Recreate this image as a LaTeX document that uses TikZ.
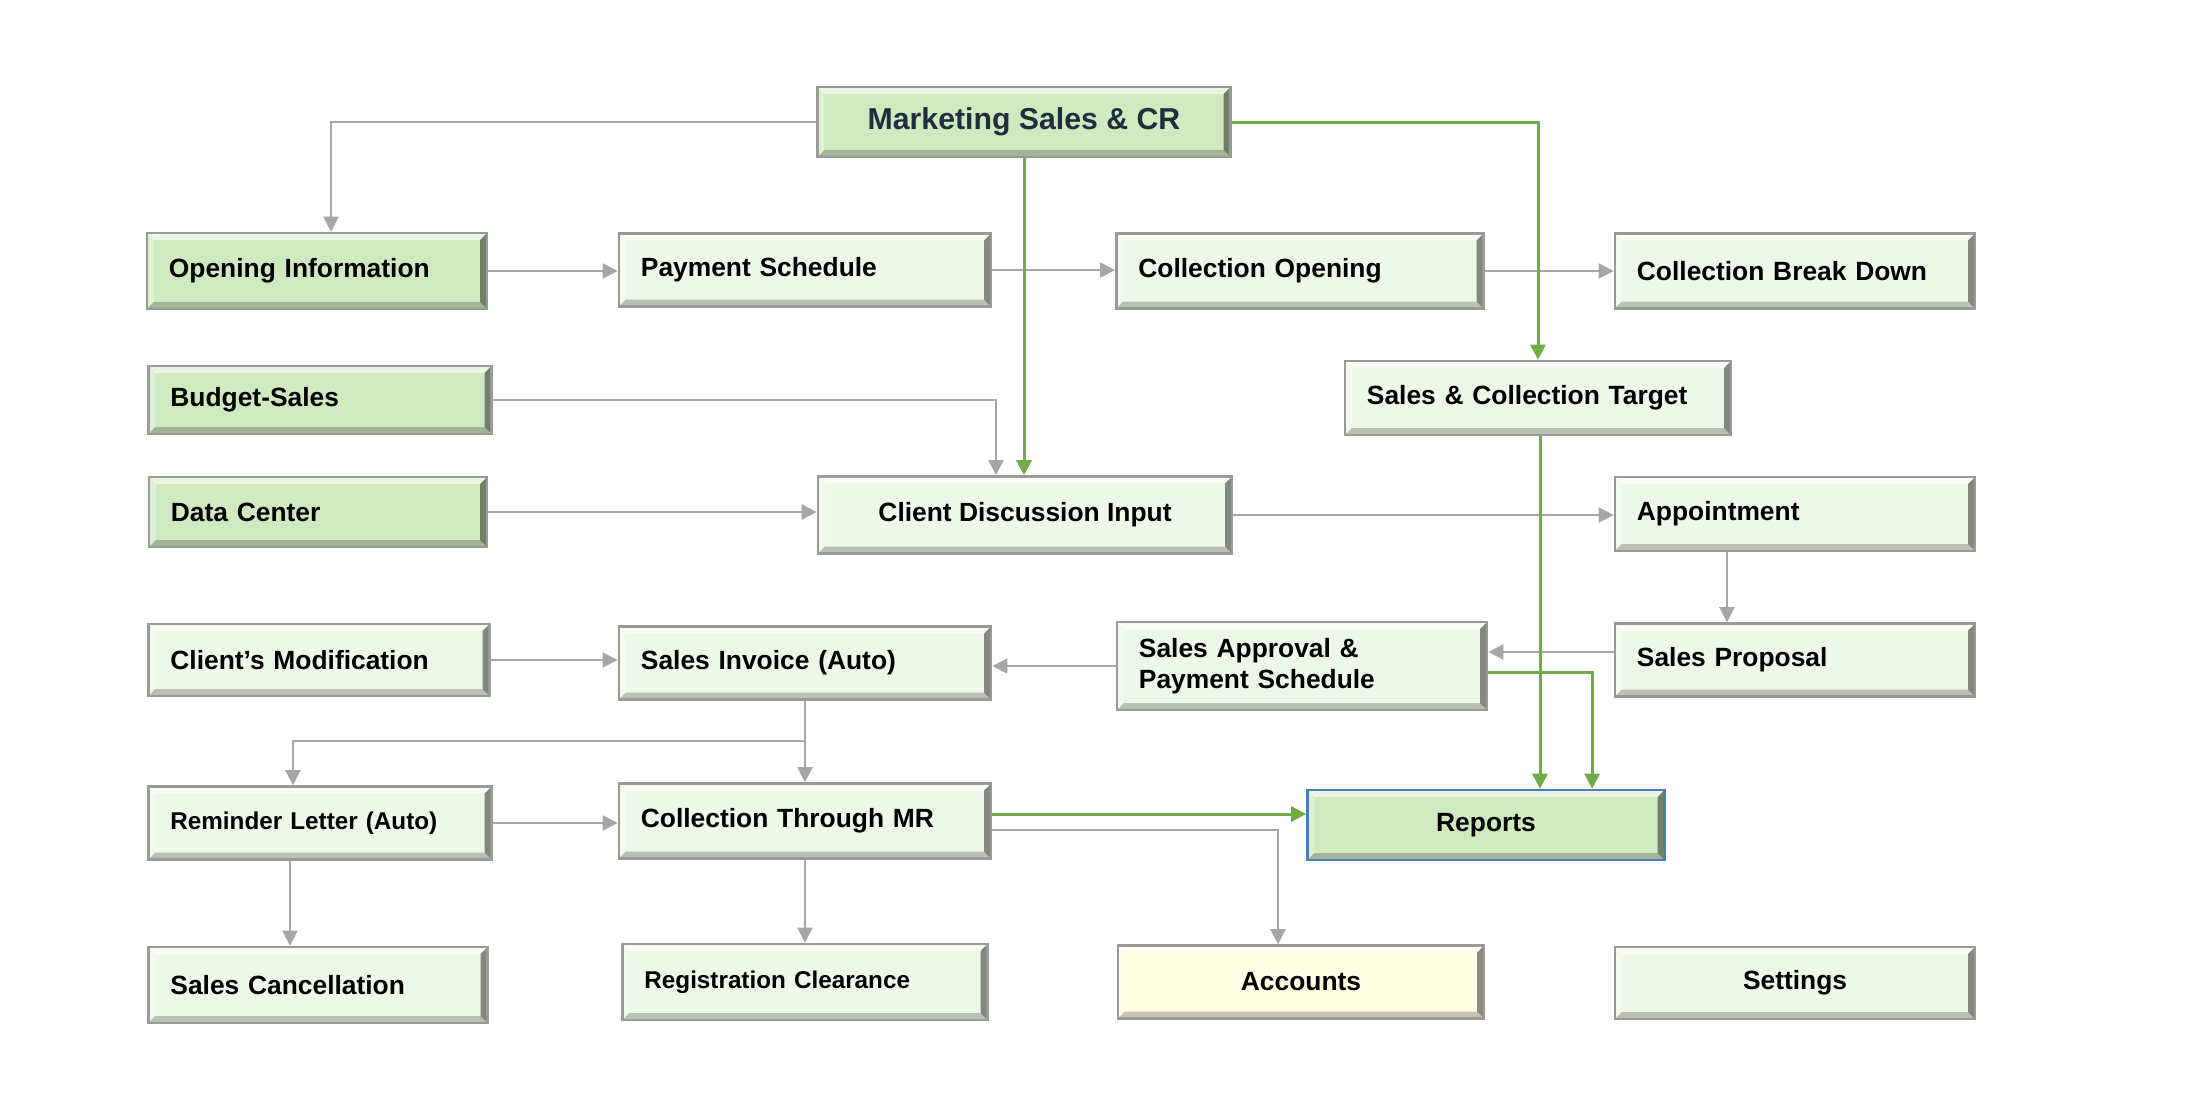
\documentclass[tikz,border=0pt]{standalone}
\usepackage{fontspec}
\setmainfont{Liberation Sans}
\usepackage{xcolor}
\definecolor{tilelight}{HTML}{EEF8E6}
\definecolor{tiledark}{HTML}{D0EAC0}
\definecolor{tileyellow}{HTML}{FFFDE3}
\definecolor{tileedge}{HTML}{9A9A9A}
\definecolor{reportedge}{HTML}{4A7EBB}
\definecolor{linkgray}{HTML}{A6A6A6}
\definecolor{linkgreen}{HTML}{70AD47}
\definecolor{headtext}{HTML}{1F2D3D}
\usetikzlibrary{arrows.meta}
\newcommand\tilefont{\fontsize{7.5}{9}\selectfont\bfseries}
\newcommand\bvw{0.07cm}

\begin{document}
\begin{tikzpicture}[x=0.01cm,y=-0.01cm,
  tile/.style={rectangle,draw=tileedge,line width=0.7pt,fill=tilelight,
    inner xsep=0.22cm,inner ysep=0pt,font=\tilefont,text=black,
    path picture={
      \path (path picture bounding box.south west) coordinate (bl)
            (path picture bounding box.north east) coordinate (tr)
            (path picture bounding box.south east) coordinate (br)
            (path picture bounding box.north west) coordinate (tl);
      \fill[white,opacity=.6] (tl) -- (tr) -- ([shift={(-\bvw,-\bvw)}]tr)
        -- ([shift={(\bvw,-\bvw)}]tl) -- cycle;
      \fill[white,opacity=.3] (bl) -- (tl) -- ([shift={(\bvw,-\bvw)}]tl)
        -- ([shift={(\bvw,\bvw)}]bl) -- cycle;
      \fill[black,opacity=.45] (tr) -- (br) -- ([shift={(-\bvw,\bvw)}]br)
        -- ([shift={(-\bvw,-\bvw)}]tr) -- cycle;
      \fill[black,opacity=.22] (bl) -- (br) -- ([shift={(-\bvw,\bvw)}]br)
        -- ([shift={(\bvw,\bvw)}]bl) -- cycle;
    }},
  ltile/.style={tile,text width=#1,align=left},
  ctile/.style={tile,minimum width=#1,align=center},
  dark/.style={fill=tiledark},
  link/.style={draw=linkgray,line width=0.57pt},
  arr/.style={link,-{Triangle[width=4.3pt,length=4.3pt]}},
  garr/.style={draw=linkgreen,line width=0.85pt,
    -{Triangle[width=4.3pt,length=4.3pt]}}
]
  \useasboundingbox (0,0) rectangle (2200,1093);

  \node[ctile=4.13cm,dark,minimum height=0.70cm,
    font=\fontsize{8.6}{10}\selectfont\bfseries,text=headtext]
    (mscr) at (1024,122) {Marketing Sales \& CR};

  \node[ltile=2.96cm,dark,minimum height=0.76cm] (oi) at (317,271) {Opening Information};
  \node[ltile=3.28cm,minimum height=0.73cm] (ps) at (805,270) {Payment Schedule};
  \node[ltile=3.23cm,minimum height=0.75cm] (co) at (1300,271) {Collection Opening};
  \node[ltile=3.16cm,minimum height=0.75cm] (cbd) at (1795,271) {Collection Break Down};

  \node[ltile=2.99cm,dark,minimum height=0.68cm] (bs) at (320,400) {Budget-Sales};
  \node[ltile=3.42cm,minimum height=0.74cm] (sct) at (1538,398) {Sales \& Collection Target};

  \node[ltile=2.94cm,dark,minimum height=0.70cm] (dc) at (318,512) {Data Center};
  \node[ctile=4.14cm,minimum height=0.77cm] (cdi) at (1025,515) {Client Discussion Input};
  \node[ltile=3.16cm,minimum height=0.74cm] (app) at (1795,514) {Appointment};

  \node[ltile=2.97cm,minimum height=0.72cm] (cm) at (319,660) {Client's Modification};
  \node[ltile=3.28cm,minimum height=0.73cm] (si) at (805,663) {Sales Invoice (Auto)};
  \node[ltile=3.26cm,minimum height=0.88cm] (sa) at (1302,666) {Sales Approval \&\\Payment Schedule};
  \node[ltile=3.16cm,minimum height=0.73cm] (sp) at (1795,660) {Sales Proposal};

  \node[ltile=2.99cm,minimum height=0.73cm,font=\fontsize{6.9}{8}\selectfont\bfseries]
    (rl) at (320,823) {Reminder Letter (Auto)};
  \node[ltile=3.28cm,minimum height=0.75cm] (ctmr) at (805,821) {Collection Through MR};
  \node[ctile=3.57cm,dark,draw=reportedge,minimum height=0.70cm] (rep) at (1486,825) {Reports};

  \node[ltile=2.95cm,minimum height=0.76cm] (sc) at (318,985) {Sales Cancellation};
  \node[ltile=3.21cm,minimum height=0.76cm,font=\fontsize{6.9}{8}\selectfont\bfseries]
    (rc) at (805,982) {Registration Clearance};
  \node[ctile=3.66cm,fill=tileyellow,minimum height=0.73cm] (acc) at (1301,982) {Accounts};
  \node[ctile=3.60cm,minimum height=0.72cm] (set) at (1795,983) {Settings};

  \path (si.south) ++(0,40) coordinate (split);

  \draw[arr] (mscr.west) -| ([xshift=0.14cm]oi.north);
  \draw[arr] (oi.east) -- (oi.east -| ps.west);
  \draw[arr] (ps.east) -- (ps.east -| co.west);
  \draw[arr] (co.east) -- (co.east -| cbd.west);
  \draw[arr] (bs.east) -| ([xshift=-0.29cm]cdi.north);
  \draw[arr] (dc.east) -- (dc.east -| cdi.west);
  \draw[arr] (cdi.east) -- (cdi.east -| app.west);
  \draw[arr] ([xshift=-0.68cm]app.south) -- ([xshift=-0.68cm]sp.north);
  \draw[arr] ([yshift=0.08cm]sp.west) -- ([yshift=0.08cm]sp.west -| sa.east);
  \draw[arr] (sa.west) -- (sa.west -| si.east);
  \draw[arr] (cm.east) -- (cm.east -| si.west);
  \draw[link] (si.south) -- (split);
  \draw[arr] (split) -| ([xshift=-0.27cm]rl.north);
  \draw[arr] (split) -- (split |- ctmr.north);
  \draw[arr] (rl.east) -- (rl.east -| ctmr.west);
  \draw[arr] ([xshift=-0.3cm]rl.south) -- ([xshift=-0.3cm]rl.south |- sc.north);
  \draw[arr] (ctmr.south) -- (rc.north);
  \draw[arr] ([yshift=-0.09cm]ctmr.east) -| ([xshift=-0.23cm]acc.north);

  \draw[garr] (mscr.south) -- (mscr.south |- cdi.north);
  \draw[garr] (mscr.east) -| (sct.north);
  \draw[garr] ([xshift=0.02cm]sct.south) -- ([xshift=0.02cm]sct.south |- rep.north);
  \draw[garr] ([yshift=-0.06cm]sa.east) -| ([xshift=1.06cm]rep.north);
  \draw[garr] ([yshift=0.07cm]ctmr.east) -- ([yshift=0.07cm]ctmr.east -| rep.west);
\end{tikzpicture}
\end{document}
